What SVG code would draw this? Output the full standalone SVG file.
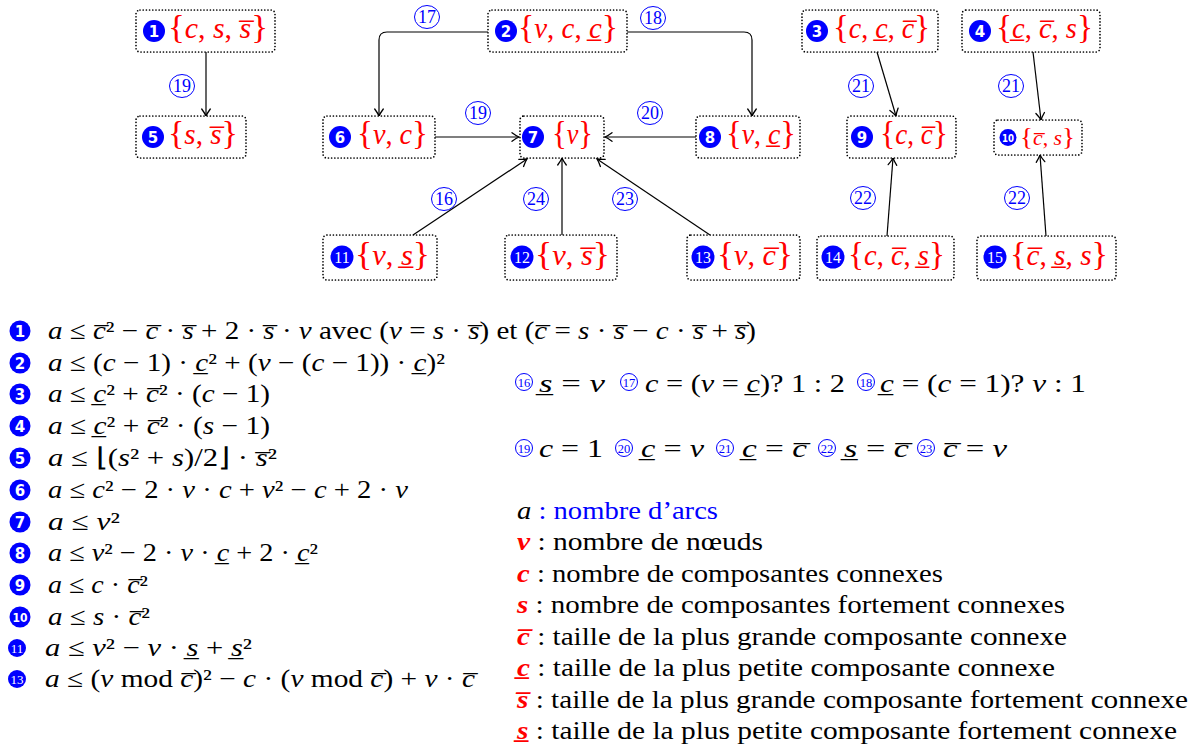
<svg xmlns="http://www.w3.org/2000/svg" width="1197" height="751" viewBox="0 0 1197 751">
<defs>
<marker id="ah" markerUnits="userSpaceOnUse" markerWidth="14" markerHeight="14" viewBox="-10 -7 12 14" refX="0" refY="0" orient="auto">
<path d="M-7,-4.3 Q-2.5,-1 0,0 Q-2.5,1 -7,4.3" fill="none" stroke="#000" stroke-width="1.3" stroke-linecap="round"/>
</marker>
</defs>
<style>
.box{fill:#fff;stroke:#000;stroke-width:1.7;stroke-dasharray:0 3.2;stroke-linecap:round}
.bd{fill:#0000ff}
.bn{fill:#fff;font-family:"DejaVu Sans",sans-serif;font-weight:bold;font-size:15px;text-anchor:middle}
.bs{fill:#fff;font-family:"Liberation Serif",serif;font-size:16px;text-anchor:middle}
.nt{fill:#ff0000;font-family:"Liberation Serif",serif;font-size:29px}
.br{font-size:34px;font-style:normal}
.i{font-style:italic}
.e{fill:none;stroke:#000;stroke-width:1.2;marker-end:url(#ah)}
.lc{fill:none;stroke:#0000ff;stroke-width:1}
.lt{fill:#0000ff;font-family:"Liberation Serif",serif;font-size:18px;text-anchor:middle}
.f{font-family:"Liberation Serif",serif;font-size:25.5px;fill:#000}
.sc{fill:none;stroke:#0000ff;stroke-width:1}
.st{fill:#0000ff;font-family:"Liberation Serif",serif;font-size:12.5px;text-anchor:middle}
.rb{fill:#ff0000;font-weight:bold;font-style:italic}
.bl{fill:#0000ff}
</style>

<g id="connectors">
<path class="e" d="M206,52 V116"/>
<path class="e" d="M488,32 H387 Q379,32 379,40 V116"/>
<path class="e" d="M627,32 H744 Q752,32 752,40 V116"/>
<path class="e" d="M435,137 H519"/>
<path class="e" d="M696,137 H605"/>
<path class="e" d="M413,235 L527,159"/>
<path class="e" d="M562,235 V158"/>
<path class="e" d="M710,235 L597,159"/>
<path class="e" d="M877,52 L896,116"/>
<path class="e" d="M1033,52 L1041,120"/>
<path class="e" d="M887,236 L893,158"/>
<path class="e" d="M1046,236 L1040,155"/>
<g id="edge-labels">
<ellipse class="lc" cx="182" cy="86" rx="12.5" ry="11.5"/><text class="lt" x="182" y="92">19</text>
<ellipse class="lc" cx="427" cy="17" rx="12.5" ry="11.5"/><text class="lt" x="427" y="23">17</text>
<ellipse class="lc" cx="653" cy="18" rx="12.5" ry="11.5"/><text class="lt" x="653" y="24">18</text>
<ellipse class="lc" cx="478" cy="113" rx="12.5" ry="11.5"/><text class="lt" x="478" y="119">19</text>
<ellipse class="lc" cx="650" cy="113" rx="12.5" ry="11.5"/><text class="lt" x="650" y="119">20</text>
<ellipse class="lc" cx="444" cy="199" rx="12.5" ry="11.5"/><text class="lt" x="444" y="205">16</text>
<ellipse class="lc" cx="536" cy="199" rx="12.5" ry="11.5"/><text class="lt" x="536" y="205">24</text>
<ellipse class="lc" cx="625" cy="199" rx="12.5" ry="11.5"/><text class="lt" x="625" y="205">23</text>
<ellipse class="lc" cx="861" cy="86" rx="12.5" ry="11.5"/><text class="lt" x="861" y="92">21</text>
<ellipse class="lc" cx="1011" cy="86" rx="12.5" ry="11.5"/><text class="lt" x="1011" y="92">21</text>
<ellipse class="lc" cx="863" cy="198" rx="12.5" ry="11.5"/><text class="lt" x="863" y="204">22</text>
<ellipse class="lc" cx="1017" cy="198" rx="12.5" ry="11.5"/><text class="lt" x="1017" y="204">22</text>
</g>
</g>

<g id="n1"><rect class="box" x="136" y="10" width="139" height="42" rx="4"/><circle class="bd" cx="154" cy="31" r="11"/><text class="bn" x="154" y="36.5">1</text>
<text class="nt" x="168" y="38" textLength="100" lengthAdjust="spacingAndGlyphs"><tspan class="br">{</tspan><tspan class="i">c</tspan>, <tspan class="i">s</tspan>, <tspan class="i">s&#x305;</tspan><tspan class="br">}</tspan></text></g>
<g id="n2"><rect class="box" x="488" y="10" width="139" height="42" rx="4"/><circle class="bd" cx="506" cy="31" r="11"/><text class="bn" x="506" y="36.5">2</text>
<text class="nt" x="518" y="38" textLength="100" lengthAdjust="spacingAndGlyphs"><tspan class="br">{</tspan><tspan class="i">v</tspan>, <tspan class="i">c</tspan>, <tspan class="i">c&#x332;</tspan><tspan class="br">}</tspan></text></g>
<g id="n3"><rect class="box" x="802" y="10" width="136" height="42" rx="4"/><circle class="bd" cx="817" cy="31" r="11"/><text class="bn" x="817" y="36.5">3</text>
<text class="nt" x="833" y="38" textLength="97" lengthAdjust="spacingAndGlyphs"><tspan class="br">{</tspan><tspan class="i">c</tspan>, <tspan class="i">c&#x332;</tspan>, <tspan class="i">c&#x305;</tspan><tspan class="br">}</tspan></text></g>
<g id="n4"><rect class="box" x="962" y="10" width="138" height="42" rx="4"/><circle class="bd" cx="980" cy="31" r="11"/><text class="bn" x="980" y="36.5">4</text>
<text class="nt" x="996" y="38" textLength="97" lengthAdjust="spacingAndGlyphs"><tspan class="br">{</tspan><tspan class="i">c&#x332;</tspan>, <tspan class="i">c&#x305;</tspan>, <tspan class="i">s</tspan><tspan class="br">}</tspan></text></g>
<g id="n5"><rect class="box" x="136" y="116" width="110" height="42" rx="4"/><circle class="bd" cx="153" cy="137" r="11"/><text class="bn" x="153" y="142.5">5</text>
<text class="nt" x="168" y="144" textLength="70" lengthAdjust="spacingAndGlyphs"><tspan class="br">{</tspan><tspan class="i">s</tspan>, <tspan class="i">s&#x305;</tspan><tspan class="br">}</tspan></text></g>
<g id="n6"><rect class="box" x="323" y="116" width="112" height="42" rx="4"/><circle class="bd" cx="340" cy="137" r="11"/><text class="bn" x="340" y="142.5">6</text>
<text class="nt" x="357" y="144" textLength="71" lengthAdjust="spacingAndGlyphs"><tspan class="br">{</tspan><tspan class="i">v</tspan>, <tspan class="i">c</tspan><tspan class="br">}</tspan></text></g>
<g id="n7"><rect class="box" x="520" y="116" width="84" height="42" rx="4"/><circle class="bd" cx="533" cy="137" r="11"/><text class="bn" x="533" y="142.5">7</text>
<text class="nt" x="552" y="144" textLength="41" lengthAdjust="spacingAndGlyphs"><tspan class="br">{</tspan><tspan class="i">v</tspan><tspan class="br">}</tspan></text></g>
<g id="n8"><rect class="box" x="696" y="116" width="104" height="42" rx="4"/><circle class="bd" cx="710" cy="137" r="11"/><text class="bn" x="710" y="142.5">8</text>
<text class="nt" x="726" y="144" textLength="70" lengthAdjust="spacingAndGlyphs"><tspan class="br">{</tspan><tspan class="i">v</tspan>, <tspan class="i">c&#x332;</tspan><tspan class="br">}</tspan></text></g>
<g id="n9"><rect class="box" x="847" y="116" width="109" height="42" rx="4"/><circle class="bd" cx="862" cy="137" r="11"/><text class="bn" x="862" y="142.5">9</text>
<text class="nt" x="880" y="144" textLength="68" lengthAdjust="spacingAndGlyphs"><tspan class="br">{</tspan><tspan class="i">c</tspan>, <tspan class="i">c&#x305;</tspan><tspan class="br">}</tspan></text></g>
<g id="n10"><rect class="box" x="994" y="120" width="88" height="35" rx="4"/><circle class="bd" cx="1008" cy="137.5" r="8.5"/><text class="bn" x="1008" y="141.5" style="font-size:11px" textLength="12" lengthAdjust="spacingAndGlyphs">10</text>
<text class="nt" x="1020" y="145" style="font-size:21px" textLength="55" lengthAdjust="spacingAndGlyphs"><tspan class="br" style="font-size:26px">{</tspan><tspan class="i">c&#x305;</tspan>, <tspan class="i">s</tspan><tspan class="br" style="font-size:26px">}</tspan></text></g>
<g id="n11"><rect class="box" x="323" y="235" width="114" height="45" rx="4"/><circle class="bd" cx="342" cy="257" r="11.5"/><text class="bs" x="342" y="263">11</text>
<text class="nt" x="355" y="265" textLength="75" lengthAdjust="spacingAndGlyphs"><tspan class="br">{</tspan><tspan class="i">v</tspan>, <tspan class="i">s&#x332;</tspan><tspan class="br">}</tspan></text></g>
<g id="n12"><rect class="box" x="505" y="235" width="112" height="45" rx="4"/><circle class="bd" cx="522" cy="257" r="11.5"/><text class="bs" x="522" y="263">12</text>
<text class="nt" x="535" y="265" textLength="75" lengthAdjust="spacingAndGlyphs"><tspan class="br">{</tspan><tspan class="i">v</tspan>, <tspan class="i">s&#x305;</tspan><tspan class="br">}</tspan></text></g>
<g id="n13"><rect class="box" x="687" y="235" width="113" height="45" rx="4"/><circle class="bd" cx="703" cy="257" r="11.5"/><text class="bs" x="703" y="263">13</text>
<text class="nt" x="717" y="265" textLength="76" lengthAdjust="spacingAndGlyphs"><tspan class="br">{</tspan><tspan class="i">v</tspan>, <tspan class="i">c&#x305;</tspan><tspan class="br">}</tspan></text></g>
<g id="n14"><rect class="box" x="817" y="236" width="137" height="44" rx="4"/><circle class="bd" cx="833" cy="257" r="11.5"/><text class="bs" x="833" y="263">14</text>
<text class="nt" x="848" y="265" textLength="97" lengthAdjust="spacingAndGlyphs"><tspan class="br">{</tspan><tspan class="i">c</tspan>, <tspan class="i">c&#x305;</tspan>, <tspan class="i">s&#x332;</tspan><tspan class="br">}</tspan></text></g>
<g id="n15"><rect class="box" x="977" y="236" width="139" height="44" rx="4"/><circle class="bd" cx="995" cy="257" r="11.5"/><text class="bs" x="995" y="263">15</text>
<text class="nt" x="1010" y="265" textLength="98" lengthAdjust="spacingAndGlyphs"><tspan class="br">{</tspan><tspan class="i">c&#x305;</tspan>, <tspan class="i">s&#x332;</tspan>, <tspan class="i">s</tspan><tspan class="br">}</tspan></text></g>

<g id="formulas">
<circle class="bd" cx="20" cy="331" r="10.5"/><text class="bn" x="20" y="336.5">1</text>
<text class="f" x="48" y="339" textLength="708" lengthAdjust="spacingAndGlyphs"><tspan class="i">a</tspan> ≤ <tspan class="i">c&#x305;</tspan>² − <tspan class="i">c&#x305;</tspan> · <tspan class="i">s&#x305;</tspan> + 2 · <tspan class="i">s&#x305;</tspan> · <tspan class="i">v</tspan> avec (<tspan class="i">v</tspan> = <tspan class="i">s</tspan> · <tspan class="i">s&#x305;</tspan>) et (<tspan class="i">c&#x305;</tspan> = <tspan class="i">s</tspan> · <tspan class="i">s&#x305;</tspan> − <tspan class="i">c</tspan> · <tspan class="i">s&#x305;</tspan> + <tspan class="i">s&#x305;</tspan>)</text>
<circle class="bd" cx="20" cy="363" r="10.5"/><text class="bn" x="20" y="368.5">2</text>
<text class="f" x="48" y="371" textLength="397" lengthAdjust="spacingAndGlyphs"><tspan class="i">a</tspan> ≤ (<tspan class="i">c</tspan> − 1) · <tspan class="i">c&#x332;</tspan>² + (<tspan class="i">v</tspan> − (<tspan class="i">c</tspan> − 1)) · <tspan class="i">c&#x332;</tspan>)²</text>
<circle class="bd" cx="20" cy="394" r="10.5"/><text class="bn" x="20" y="399.5">3</text>
<text class="f" x="48" y="402" textLength="222" lengthAdjust="spacingAndGlyphs"><tspan class="i">a</tspan> ≤ <tspan class="i">c&#x332;</tspan>² + <tspan class="i">c&#x305;</tspan>² · (<tspan class="i">c</tspan> − 1)</text>
<circle class="bd" cx="20" cy="426" r="10.5"/><text class="bn" x="20" y="431.5">4</text>
<text class="f" x="48" y="434" textLength="222" lengthAdjust="spacingAndGlyphs"><tspan class="i">a</tspan> ≤ <tspan class="i">c&#x332;</tspan>² + <tspan class="i">c&#x305;</tspan>² · (<tspan class="i">s</tspan> − 1)</text>
<circle class="bd" cx="20" cy="458" r="10.5"/><text class="bn" x="20" y="463.5">5</text>
<text class="f" x="48" y="466" textLength="229" lengthAdjust="spacingAndGlyphs"><tspan class="i">a</tspan> ≤ ⌊(<tspan class="i">s</tspan>² + <tspan class="i">s</tspan>)/2⌋ · <tspan class="i">s&#x305;</tspan>²</text>
<circle class="bd" cx="20" cy="490" r="10.5"/><text class="bn" x="20" y="495.5">6</text>
<text class="f" x="48" y="498" textLength="360" lengthAdjust="spacingAndGlyphs"><tspan class="i">a</tspan> ≤ <tspan class="i">c</tspan>² − 2 · <tspan class="i">v</tspan> · <tspan class="i">c</tspan> + <tspan class="i">v</tspan>² − <tspan class="i">c</tspan> + 2 · <tspan class="i">v</tspan></text>
<circle class="bd" cx="20" cy="522" r="10.5"/><text class="bn" x="20" y="527.5">7</text>
<text class="f" x="48" y="530" textLength="72" lengthAdjust="spacingAndGlyphs"><tspan class="i">a</tspan> ≤ <tspan class="i">v</tspan>²</text>
<circle class="bd" cx="20" cy="553" r="10.5"/><text class="bn" x="20" y="558.5">8</text>
<text class="f" x="48" y="561" textLength="270" lengthAdjust="spacingAndGlyphs"><tspan class="i">a</tspan> ≤ <tspan class="i">v</tspan>² − 2 · <tspan class="i">v</tspan> · <tspan class="i">c&#x332;</tspan> + 2 · <tspan class="i">c&#x332;</tspan>²</text>
<circle class="bd" cx="20" cy="585" r="10.5"/><text class="bn" x="20" y="590.5">9</text>
<text class="f" x="48" y="593" textLength="100" lengthAdjust="spacingAndGlyphs"><tspan class="i">a</tspan> ≤ <tspan class="i">c</tspan> · <tspan class="i">c&#x305;</tspan>²</text>
<circle class="bd" cx="20" cy="617" r="10.5"/><text class="bn" x="20" y="621.5" style="font-size:13px" textLength="15" lengthAdjust="spacingAndGlyphs">10</text>
<text class="f" x="48" y="625" textLength="102" lengthAdjust="spacingAndGlyphs"><tspan class="i">a</tspan> ≤ <tspan class="i">s</tspan> · <tspan class="i">c&#x305;</tspan>²</text>
<circle class="bd" cx="17" cy="648" r="9"/><text class="bs" x="17" y="653" style="font-size:13px">11</text>
<text class="f" x="45" y="656" textLength="207" lengthAdjust="spacingAndGlyphs"><tspan class="i">a</tspan> ≤ <tspan class="i">v</tspan>² − <tspan class="i">v</tspan> · <tspan class="i">s&#x332;</tspan> + <tspan class="i">s&#x332;</tspan>²</text>
<circle class="bd" cx="17" cy="679" r="9"/><text class="bs" x="17" y="684" style="font-size:13px">13</text>
<text class="f" x="45" y="687" textLength="430" lengthAdjust="spacingAndGlyphs"><tspan class="i">a</tspan> ≤ (<tspan class="i">v</tspan> mod <tspan class="i">c&#x305;</tspan>)² − <tspan class="i">c</tspan> · (<tspan class="i">v</tspan> mod <tspan class="i">c&#x305;</tspan>) + <tspan class="i">v</tspan> · <tspan class="i">c&#x305;</tspan></text>
</g>

<g id="conditions">
<circle class="sc" cx="524" cy="382" r="8.5"/><text class="st" x="524" y="386.5">16</text>
<text class="f" x="539" y="392" textLength="66" lengthAdjust="spacingAndGlyphs"><tspan class="i">s&#x332;</tspan> = <tspan class="i">v</tspan></text>
<circle class="sc" cx="629" cy="382" r="8.5"/><text class="st" x="629" y="386.5">17</text>
<text class="f" x="645" y="392" textLength="200" lengthAdjust="spacingAndGlyphs"><tspan class="i">c</tspan> = (<tspan class="i">v</tspan> = <tspan class="i">c&#x332;</tspan>)? 1 : 2</text>
<circle class="sc" cx="866" cy="382" r="8.5"/><text class="st" x="866" y="386.5">18</text>
<text class="f" x="880" y="392" textLength="206" lengthAdjust="spacingAndGlyphs"><tspan class="i">c&#x332;</tspan> = (<tspan class="i">c</tspan> = 1)? <tspan class="i">v</tspan> : 1</text>
<circle class="sc" cx="524" cy="448" r="8.5"/><text class="st" x="524" y="452.5">19</text>
<text class="f" x="539" y="457" textLength="64" lengthAdjust="spacingAndGlyphs"><tspan class="i">c</tspan> = 1</text>
<circle class="sc" cx="624" cy="448" r="8.5"/><text class="st" x="624" y="452.5">20</text>
<text class="f" x="641" y="457" textLength="63" lengthAdjust="spacingAndGlyphs"><tspan class="i">c&#x332;</tspan> = <tspan class="i">v</tspan></text>
<circle class="sc" cx="725" cy="448" r="8.5"/><text class="st" x="725" y="452.5">21</text>
<text class="f" x="742" y="457" textLength="65" lengthAdjust="spacingAndGlyphs"><tspan class="i">c&#x332;</tspan> = <tspan class="i">c&#x305;</tspan></text>
<circle class="sc" cx="827" cy="448" r="8.5"/><text class="st" x="827" y="452.5">22</text>
<text class="f" x="844" y="457" textLength="65" lengthAdjust="spacingAndGlyphs"><tspan class="i">s&#x332;</tspan> = <tspan class="i">c&#x305;</tspan></text>
<circle class="sc" cx="926" cy="448" r="8.5"/><text class="st" x="926" y="452.5">23</text>
<text class="f" x="943" y="457" textLength="64" lengthAdjust="spacingAndGlyphs"><tspan class="i">c&#x305;</tspan> = <tspan class="i">v</tspan></text>
</g>

<g id="legend">
<text class="f" x="517" y="519" textLength="201" lengthAdjust="spacingAndGlyphs"><tspan class="i">a</tspan><tspan class="bl"> : nombre d’arcs</tspan></text>
<text class="f" x="517" y="550" textLength="246" lengthAdjust="spacingAndGlyphs"><tspan class="rb">v</tspan> : nombre de nœuds</text>
<text class="f" x="517" y="582" textLength="426" lengthAdjust="spacingAndGlyphs"><tspan class="rb">c</tspan> : nombre de composantes connexes</text>
<text class="f" x="517" y="613" textLength="548" lengthAdjust="spacingAndGlyphs"><tspan class="rb">s</tspan> : nombre de composantes fortement connexes</text>
<text class="f" x="517" y="645" textLength="550" lengthAdjust="spacingAndGlyphs"><tspan class="rb">c&#x305;</tspan> : taille de la plus grande composante connexe</text>
<text class="f" x="517" y="676" textLength="538" lengthAdjust="spacingAndGlyphs"><tspan class="rb">c&#x332;</tspan> : taille de la plus petite composante connexe</text>
<text class="f" x="517" y="708" textLength="671" lengthAdjust="spacingAndGlyphs"><tspan class="rb">s&#x305;</tspan> : taille de la plus grande composante fortement connexe</text>
<text class="f" x="517" y="739" textLength="660" lengthAdjust="spacingAndGlyphs"><tspan class="rb">s&#x332;</tspan> : taille de la plus petite composante fortement connexe</text>
</g>
</svg>
